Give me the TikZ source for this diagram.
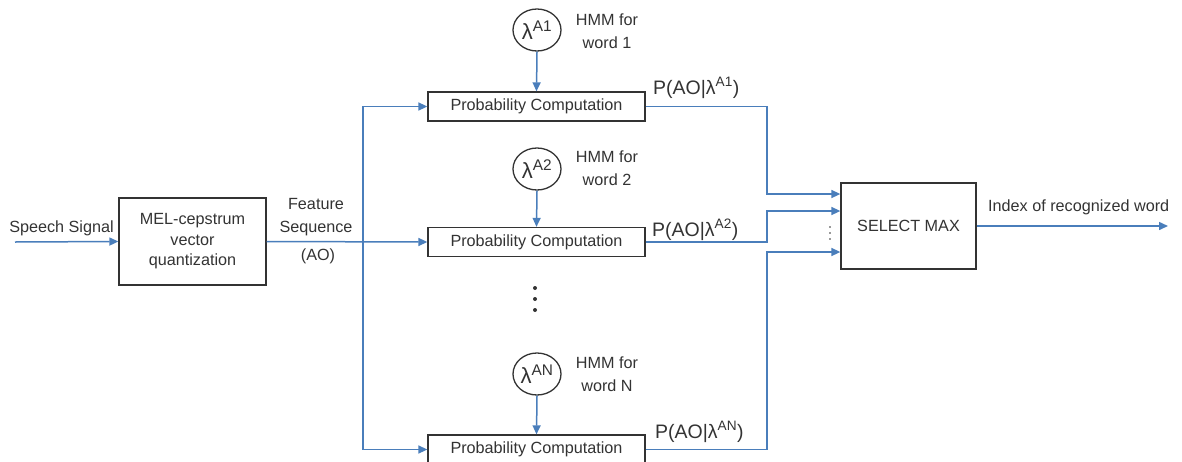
\documentclass[tikz,border=0pt]{standalone}
\usepackage{fontspec}
\setmainfont{Liberation Sans}
\usetikzlibrary{arrows.meta,shapes.geometric}
\definecolor{flow}{HTML}{4A7EBB}
\definecolor{ink}{HTML}{333333}
\begin{document}
\begin{tikzpicture}[x=1pt,y=-1pt,
  box/.style={draw=ink, line width=1.3pt, fill=white, inner sep=0pt,
    font=\fontsize{16.2}{20.5}\selectfont, text=ink, align=center},
  probbox/.style={box, minimum width=217pt, minimum height=29pt},
  hmm/.style={ellipse, draw=ink, line width=1.3pt, minimum width=48pt,
    minimum height=42pt, inner sep=0pt, font=\fontsize{22}{22}\selectfont, text=ink},
  lbl/.style={font=\fontsize{16.2}{23}\selectfont, text=ink, inner sep=0pt, align=center},
  plbl/.style={font=\fontsize{19.5}{22}\selectfont, text=ink, inner sep=0pt, anchor=west},
  flowline/.style={draw=flow, line width=1.5pt},
  flowarrow/.style={flowline, -{Triangle[length=9pt,width=8pt]}},
]
\useasboundingbox (0,0) rectangle (1182,461);

% processing blocks
\node[box, minimum width=147pt, minimum height=87pt] (mel) at (192.5,241.5)
  {MEL-cepstrum\\vector\\quantization};
\node[probbox] (p1) at (536.5,106.5) {Probability Computation};
\node[probbox] (p2) at (536.5,242) {Probability Computation};
\node[probbox] (pN) at (536.5,449.5) {Probability Computation};
\node[box, minimum width=135pt, minimum height=86pt] (sel) at (908.5,226) {SELECT MAX};

% word models
\node[hmm] (h1) at (537,30) {λ\textsuperscript{A1}};
\node[hmm] (h2) at (537,169) {λ\textsuperscript{A2}};
\node[hmm] (hN) at (537,374) {λ\textsuperscript{AN}};
\node[lbl] (t1) at (607,31) {HMM for\\word 1};
\node[lbl] (t2) at (607,168) {HMM for\\word 2};
\node[lbl] (tN) at (607,374) {HMM for\\word N};

% text labels
\node[lbl] (speech) at (61.5,228) {Speech Signal};
\node[lbl] (feat) at (316,217) {Feature\\Sequence};
\node[lbl] (ao) at (318,256) {(AO)};
\node[plbl] (q1) at (653,88) {P(AO|λ\textsuperscript{A1})};
\node[plbl] (q2) at (652,230) {P(AO|λ\textsuperscript{A2})};
\node[plbl] (qN) at (655,432) {P(AO|λ\textsuperscript{AN})};
\node[lbl, anchor=west] (idx) at (988,207) {Index of recognized word};

% routing points
\coordinate (src) at (15,242);
\coordinate (split) at (363,242);
\coordinate (bus) at (767,0);
\coordinate (out) at (1168,226);

% signal flow
\draw[flowarrow] (src) -- (mel.west);
\draw[flowarrow] (mel.east) -- (p2.west);
\draw[flowarrow] (split) |- (p1.west);
\draw[flowarrow] (split) |- (pN.west);
\draw[flowarrow] (h1.south) -- (p1.north);
\draw[flowarrow] (h2.south) -- (p2.north);
\draw[flowarrow] (hN.south) -- (pN.north);
\draw[flowarrow] (p1.east) -- (p1.east -| bus) |- ([yshift=32pt]sel.west);
\draw[flowarrow] (p2.east) -- (p2.east -| bus) |- ([yshift=15pt]sel.west);
\draw[flowarrow] (pN.east) -- (pN.east -| bus) |- ([yshift=-26pt]sel.west);
\draw[flowarrow] (sel.east) -- (out);

% ellipsis marks
\foreach \y in {288,299,310} \fill[ink] (535,\y) circle (2pt);
\foreach \y in {227,233,239} \fill[ink] (830,\y) circle (0.9pt);
\end{tikzpicture}
\end{document}
